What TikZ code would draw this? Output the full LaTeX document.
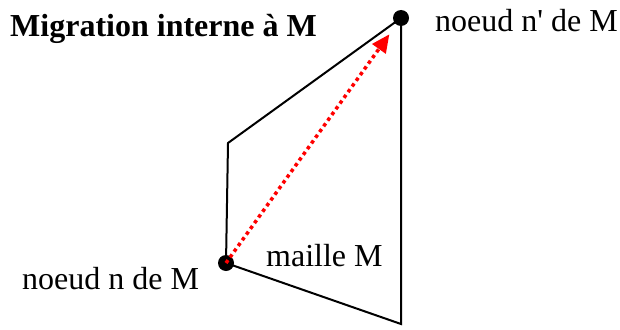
\documentclass[tikz,border=0pt]{standalone}
\usepackage{fontspec}
\setmainfont{Liberation Serif}
\usetikzlibrary{arrows.meta}
\begin{document}
\begin{tikzpicture}[x=1pt,y=-1pt,
  lbl/.style={anchor=base west,inner sep=0pt,font=\fontsize{32}{38}\selectfont},
  dotnode/.style={circle,fill=black,inner sep=0pt,minimum size=16pt},
  edge/.style={line width=2pt,line join=miter},
  migr/.style={red,line width=3.5pt,dash pattern=on 3.5pt off 3.5pt,-{Triangle[length=18pt,width=16pt]},shorten >=20pt}]
\useasboundingbox (0,0) rectangle (620,329);
\coordinate (c) at (228,143);
\coordinate (b) at (401,324);
\node[dotnode] (n) at (226,263) {};
\node[dotnode] (np) at (401,18) {};
\draw[edge] (c) -- (np.center) -- (b) -- (n.center) -- cycle;
\draw[migr] (n.center) -- (np.center);
\node[lbl,font=\fontsize{32}{38}\selectfont\bfseries] (title) at (10,37) {Migration interne à M};
\node[lbl] (tnp) at (435,32) {noeud n\textquotesingle{} de M};
\node[lbl] (tn) at (22,289) {noeud n de M};
\node[lbl] (tm) at (266,266) {maille M};
\end{tikzpicture}
\end{document}
